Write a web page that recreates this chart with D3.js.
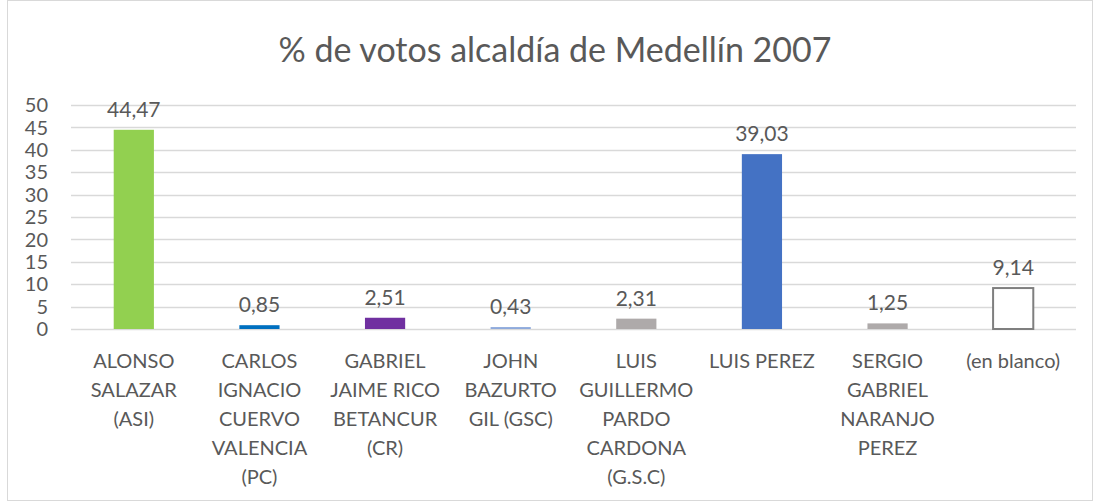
<!DOCTYPE html>
<html>
<head>
<meta charset="utf-8">
<script src="https://cdnjs.cloudflare.com/ajax/libs/d3/7.8.5/d3.min.js"></script>
<style>
  body { margin: 0; background: #fff; }
  svg text { font-family: Lato, "Open Sans", sans-serif; fill: #595959; }
</style>
</head>
<body>
<svg id="chart" width="1094" height="501"></svg>
<script>
var categories = [
  ["ALONSO", "SALAZAR", "(ASI)"],
  ["CARLOS", "IGNACIO", "CUERVO", "VALENCIA", "(PC)"],
  ["GABRIEL", "JAIME RICO", "BETANCUR", "(CR)"],
  ["JOHN", "BAZURTO", "GIL (GSC)"],
  ["LUIS", "GUILLERMO", "PARDO", "CARDONA", "(G.S.C)"],
  ["LUIS PEREZ"],
  ["SERGIO", "GABRIEL", "NARANJO", "PEREZ"],
  ["(en blanco)"]
];
var values = [44.47, 0.85, 2.51, 0.43, 2.31, 39.03, 1.25, 9.14];
var labels = ["44,47", "0,85", "2,51", "0,43", "2,31", "39,03", "1,25", "9,14"];
var colors = ["#92D050", "#0070C0", "#7030A0", "#8FAADC", "#AEAAAA", "#4472C4", "#AEAAAA", "#FFFFFF"];
var yTicks = [0, 5, 10, 15, 20, 25, 30, 35, 40, 45, 50];
var title = "% de votos alcaldía de Medellín 2007";

var svg = d3.select("#chart");
var width = 1094, height = 501;
var margin = {left: 71, right: 18, top: 105, bottom: 172};

// chart border
svg.append("rect")
    .attr("x", 7.5).attr("y", 0.5)
    .attr("width", width - 9).attr("height", height - 1)
    .attr("fill", "#fff").attr("stroke", "#d9d9d9");

var x = d3.scaleBand()
    .domain(d3.range(categories.length))
    .range([margin.left, width - margin.right])
    .paddingInner(0.68).paddingOuter(0.34);

var y = d3.scaleLinear()
    .domain([0, 50])
    .range([height - margin.bottom, margin.top]);

svg.append("text")
    .attr("x", 555).attr("y", 62)
    .attr("text-anchor", "middle")
    .style("font-size", "34px")
    .text(title);

// gridlines
svg.append("g").selectAll("line")
    .data(yTicks)
    .enter().append("line")
    .attr("x1", margin.left).attr("x2", width - margin.right)
    .attr("y1", function(d) { return Math.round(y(d)) + 0.5; })
    .attr("y2", function(d) { return Math.round(y(d)) + 0.5; })
    .attr("stroke", "#d9d9d9").attr("stroke-width", 1.3);

// y tick labels
svg.append("g").selectAll("text")
    .data(yTicks)
    .enter().append("text")
    .attr("x", 48).attr("y", function(d) { return y(d); })
    .attr("dy", "0.36em")
    .attr("text-anchor", "end")
    .style("font-size", "20px")
    .text(function(d) { return d; });

// bars
svg.append("g").selectAll("rect")
    .data(values)
    .enter().append("rect")
    .attr("x", function(d, i) { return x(i); })
    .attr("y", function(d) { return y(d); })
    .attr("width", x.bandwidth())
    .attr("height", function(d) { return y(0) - y(d); })
    .attr("fill", function(d, i) { return colors[i]; })
    .attr("stroke", function(d, i) { return i == 7 ? "#7f7f7f" : "none"; })
    .attr("stroke-width", 2);

// value labels
svg.append("g").selectAll("text")
    .data(values)
    .enter().append("text")
    .attr("x", function(d, i) { return x(i) + x.bandwidth() / 2; })
    .attr("y", function(d) { return y(d) - 13; })
    .attr("text-anchor", "middle")
    .style("font-size", "21px")
    .text(function(d, i) { return labels[i]; });

// category labels
var cat = svg.append("g").selectAll("text")
    .data(categories)
    .enter().append("text")
    .attr("text-anchor", "middle")
    .attr("x", function(d, i) { return x(i) + x.bandwidth() / 2; })
    .attr("y", 368)
    .style("font-size", "20px");

cat.selectAll("tspan")
    .data(function(d) { return d; })
    .enter().append("tspan")
    .attr("x", function() { return d3.select(this.parentNode).attr("x"); })
    .attr("dy", function(d, i) { return i == 0 ? 0 : 29; })
    .text(function(d) { return d; });
</script>
</body>
</html>
